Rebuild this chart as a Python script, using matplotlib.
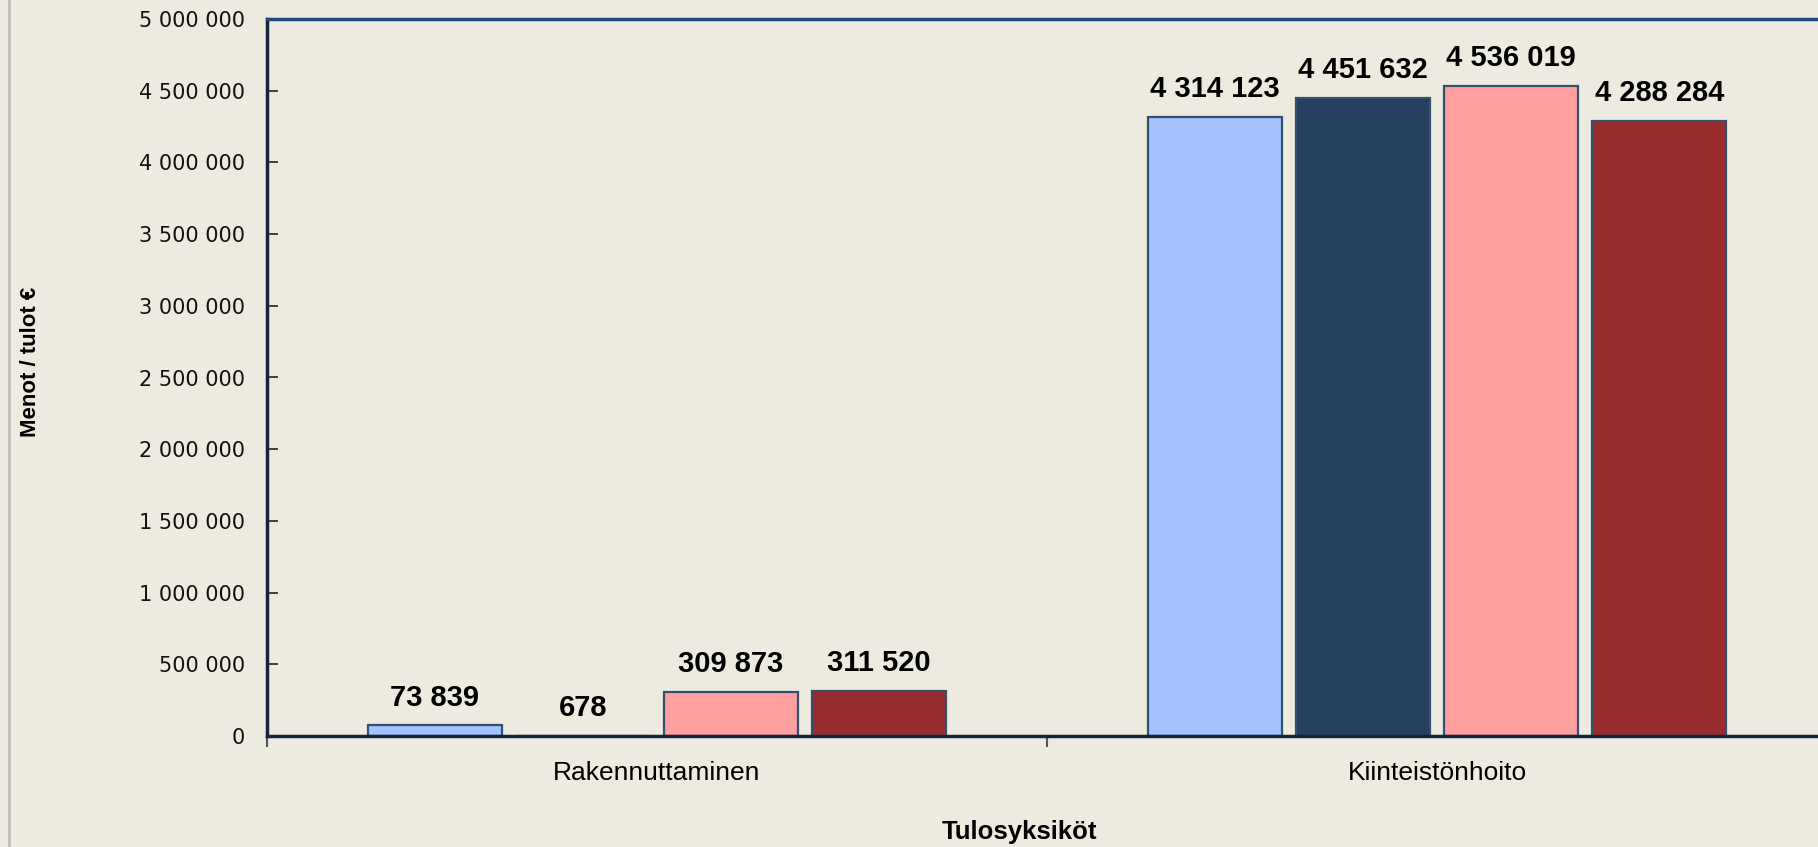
import numpy as np
import matplotlib
matplotlib.use("Agg")
import matplotlib.pyplot as plt
from matplotlib.lines import Line2D
from matplotlib.ticker import FuncFormatter, FixedLocator

# Data
categories = ['Rakennuttaminen', 'Kiinteistönhoito']
series_1 = [73839, 4314123]
series_2 = [678, 4451632]
series_3 = [309873, 4536019]
series_4 = [311520, 4288284]
series = [series_1, series_2, series_3, series_4]
colors = ['#A4C3FE', '#253F5E', '#FFA0A0', '#992C2C']

bg = '#EDEBE0'
fig = plt.figure(figsize=(18.18, 8.47), dpi=100, facecolor=bg)
ax = fig.add_axes([267 / 1818, 1 - 736 / 847, 1560 / 1818, 717 / 847])
ax.set_facecolor(bg)

x = np.arange(len(categories))
step = 0.19
width = 0.172
for i, vals in enumerate(series):
    pos = x + (i - 1.5) * step
    bars = ax.bar(pos, vals, width=width, color=colors[i], edgecolor='#34506F',
                  linewidth=1.6, zorder=3)
    for b, v in zip(bars, vals):
        ax.annotate('{:,}'.format(v).replace(',', ' '),
                    (b.get_x() + b.get_width() / 2, b.get_height()),
                    xytext=(0, 10), textcoords='offset points', ha='center', va='bottom',
                    fontsize=21, fontweight='bold', family='Liberation Sans', zorder=4)

ax.set_xlim(-0.5, len(categories) - 0.5)
ax.set_ylim(0, 5000000)

# y axis
ax.yaxis.set_major_locator(FixedLocator(np.arange(0, 5000001, 500000)))
ax.yaxis.set_major_formatter(FuncFormatter(lambda v, p: '{:,}'.format(int(v)).replace(',', ' ')))
ax.tick_params(axis='y', direction='in', length=8, width=1.2, color='#222222', pad=16,
               labelsize=15, labelcolor='#111111')

# x axis: ticks at category boundaries, labels at centers
ax.set_xticks([-0.5, 0.5, 1.5])
ax.set_xticklabels([])
ax.set_xticks(x, minor=True)
ax.set_xticklabels(categories, minor=True, fontsize=19, family='Liberation Sans')
ax.tick_params(axis='x', which='major', direction='out', length=8, width=1.5, color='#555555')
ax.tick_params(axis='x', which='minor', length=0, pad=18)

for s in ['left', 'bottom']:
    ax.spines[s].set_color('#14243A')
    ax.spines[s].set_linewidth(2.5)
ax.spines['top'].set_color('#24497D')
ax.spines['top'].set_linewidth(2.5)
ax.spines['right'].set_visible(False)
ax.spines['bottom'].set_zorder(5)

fig.text(31 / 1818, 1 - 362 / 847, 'Menot / tulot €', rotation=90, ha='center', va='center',
         fontsize=16, fontweight='bold', family='Liberation Sans')
fig.text(1020 / 1818, 1 - 832 / 847, 'Tulosyksiköt', ha='center', va='center',
         fontsize=18.5, fontweight='bold', family='Liberation Sans')

# chart area border on the left
fig.add_artist(Line2D([8.5 / 1818, 8.5 / 1818], [0, 1], transform=fig.transFigure,
                      color='#BDBDBD', linewidth=2))

fig.savefig('out.png', dpi=100, facecolor=bg)
